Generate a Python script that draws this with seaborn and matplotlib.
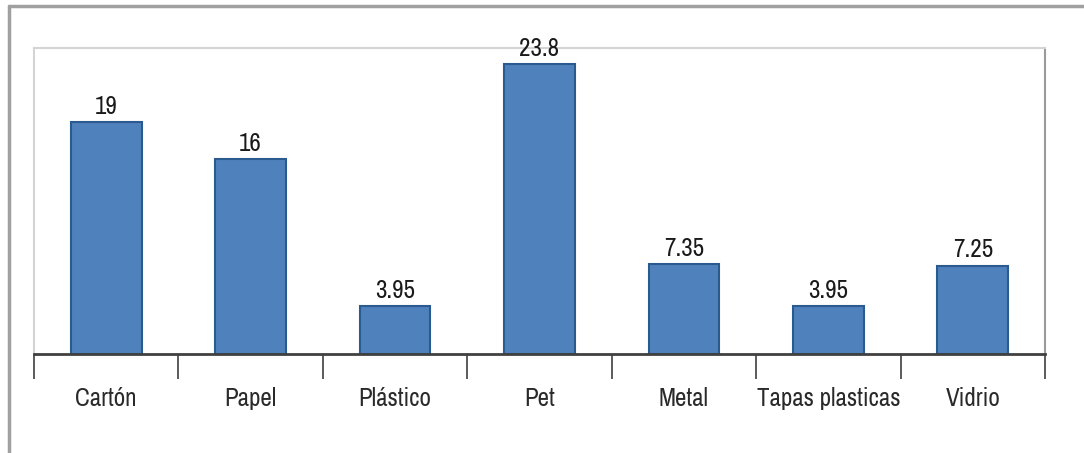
import matplotlib
matplotlib.use("Agg")
import matplotlib.pyplot as plt
from matplotlib.lines import Line2D
from matplotlib.ticker import FixedLocator
import seaborn as sns
import pandas as pd

categories = ["Cartón", "Papel", "Plástico", "Pet", "Metal", "Tapas plasticas", "Vidrio"]
values = [19, 16, 3.95, 23.8, 7.35, 3.95, 7.25]
value_labels = ["19", "16", "3.95", "23.8", "7.35", "3.95", "7.25"]

sns.set_theme(style="white")
plt.rcParams["font.family"] = ["Archivo Narrow", "Liberation Sans", "DejaVu Sans"]

df = pd.DataFrame({"material": categories, "valor": values})

fig = plt.figure(figsize=(10.84, 4.53), dpi=100)
ax = fig.add_axes([34 / 1084, 99 / 453, (1045 - 34) / 1084, (354 - 48) / 453])

sns.barplot(data=df, x="material", y="valor", color="#4f81bd", saturation=1,
            width=0.49, edgecolor="#2b5a8e", linewidth=1.5, ax=ax)

ax.set_xlim(-0.5, len(categories) - 0.5)
ax.set_ylim(0, 25.1)
ax.set_xlabel("")
ax.set_ylabel("")
ax.set_yticks([])

# Category separators drawn as downward ticks between bars
ax.xaxis.set_minor_locator(FixedLocator([i - 0.5 for i in range(len(categories) + 1)]))
ax.tick_params(axis="x", which="minor", length=18, width=1.2, color="#404040", direction="out", bottom=True)
ax.tick_params(axis="x", which="major", length=0, pad=24, labelsize=18, labelcolor="#2a2a2a")

for spine in ("top", "left"):
    ax.spines[spine].set_color("#d4d4d4")
    ax.spines[spine].set_linewidth(1.5)
ax.spines["right"].set_color("#9a9a9a")
ax.spines["right"].set_linewidth(1.5)
ax.spines["bottom"].set_color("#404040")
ax.spines["bottom"].set_linewidth(2)

for i, (v, lab) in enumerate(zip(values, value_labels)):
    ax.annotate(lab, (i, v), xytext=(0, 3), textcoords="offset points",
                ha="center", va="bottom", fontsize=18, color="#1a1a1a")

# Outer chart frame
fig.add_artist(Line2D([9 / 1084, 1.0], [1 - 6 / 453, 1 - 6 / 453], transform=fig.transFigure,
                      color="#a0a0a0", linewidth=2.5))
fig.add_artist(Line2D([9 / 1084, 9 / 1084], [0.0, 1 - 6 / 453], transform=fig.transFigure,
                      color="#a0a0a0", linewidth=2.5))

fig.savefig("out.png", dpi=100)
